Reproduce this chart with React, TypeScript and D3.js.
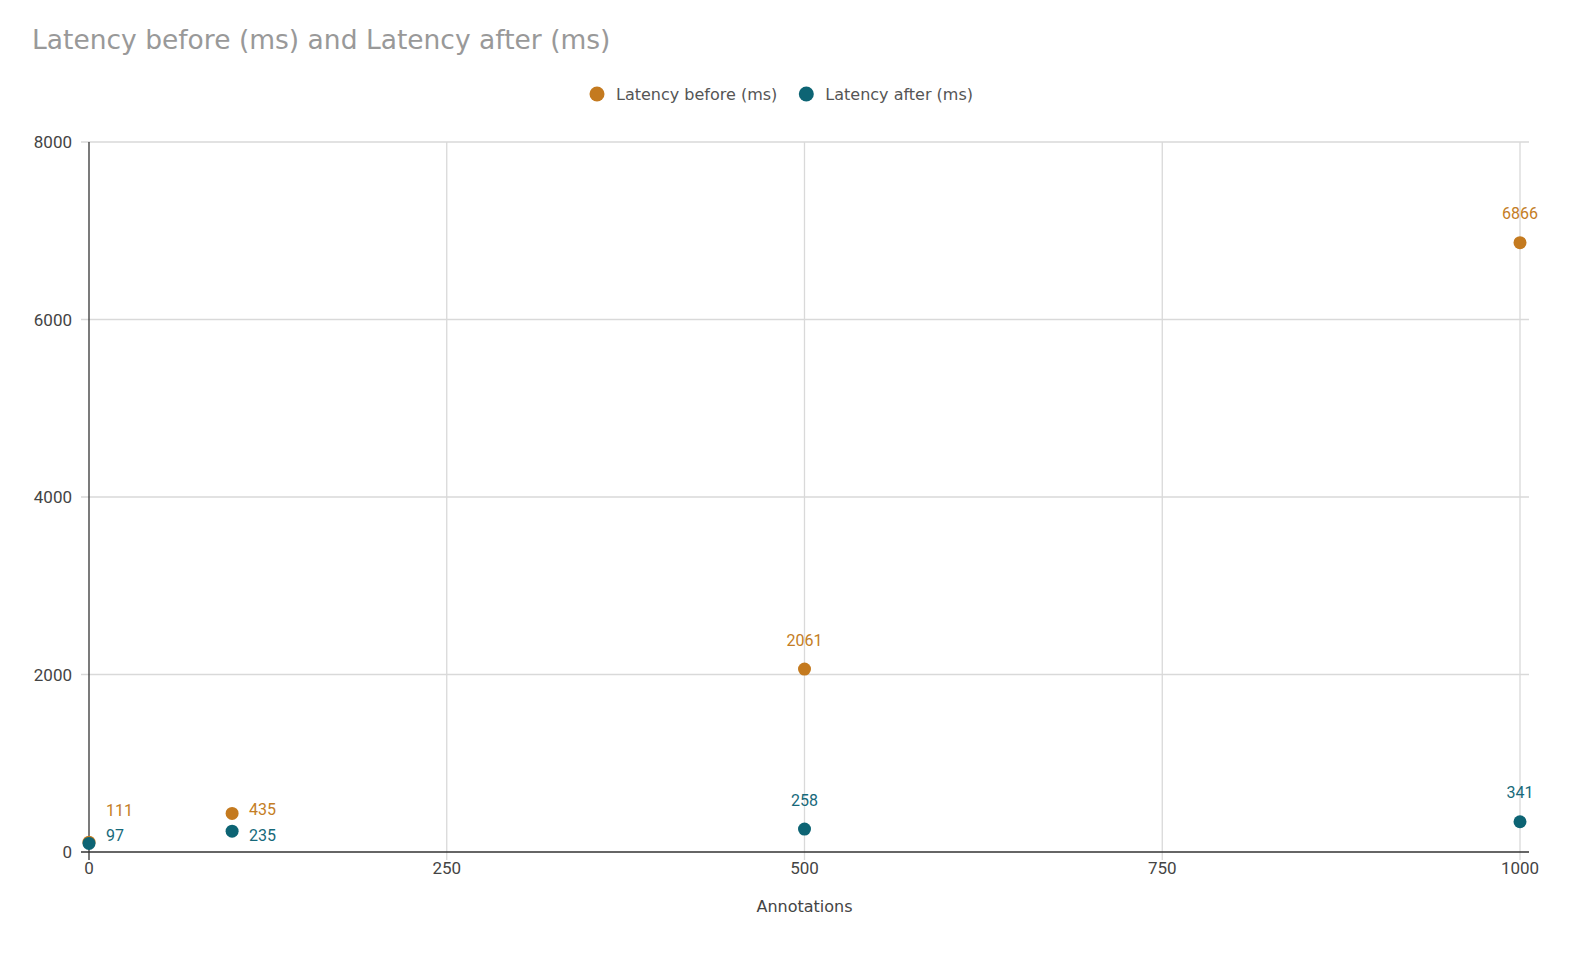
import React, { useEffect, useRef } from "react";
import * as d3 from "d3";

// annotations on the x axis
const annotations = [0, 100, 500, 1000];
const latencyBefore = [111, 435, 2061, 6866];
const latencyAfter = [97, 235, 258, 341];
const xTicks = [0, 250, 500, 750, 1000];
const yTicks = [0, 2000, 4000, 6000, 8000];

const series = [
  { name: "Latency before (ms)", values: latencyBefore, color: "#c47a1f", text: "#c47d24" },
  { name: "Latency after (ms)", values: latencyAfter, color: "#0d6474", text: "#17697a" },
];

const App = () => {
  const ref = useRef<SVGSVGElement>(null);

  useEffect(() => {
    const width = 1596,
      height = 958;
    const margin = { top: 142, right: 76, bottom: 106, left: 89 };

    const svg = d3.select(ref.current);
    svg.selectAll("*").remove();

    const x = d3
      .scaleLinear()
      .domain([0, 1000])
      .range([margin.left, width - margin.right]);
    const y = d3
      .scaleLinear()
      .domain([0, 8000])
      .range([height - margin.bottom, margin.top]);

    const gridRight = x(1000) + 9;

    // title
    svg
      .append("text")
      .attr("x", 32)
      .attr("y", 49)
      .attr("font-family", "DejaVu Sans")
      .attr("font-size", 26.5)
      .attr("fill", "#999999")
      .text("Latency before (ms) and Latency after (ms)");

    // legend
    const legend = svg.append("g");
    let lx = 597;
    series.forEach((s) => {
      legend.append("circle").attr("cx", lx).attr("cy", 94).attr("r", 7.5).attr("fill", s.color);
      const t = legend
        .append("text")
        .attr("x", lx + 19)
        .attr("y", 99.5)
        .attr("font-family", "DejaVu Sans")
        .attr("font-size", 16)
        .attr("fill", "#555")
        .text(s.name);
      const w = (t.node() as SVGTextElement).getComputedTextLength();
      lx += 19 + w + 29;
    });

    // horizontal grid
    svg
      .append("g")
      .selectAll("line")
      .data(yTicks.filter((d) => d > 0))
      .enter()
      .append("line")
      .attr("x1", x(0) - 8)
      .attr("x2", gridRight)
      .attr("y1", (d) => y(d))
      .attr("y2", (d) => y(d))
      .attr("stroke", "#d9d9d9")
      .attr("stroke-width", 1.3);

    // vertical grid
    svg
      .append("g")
      .selectAll("line")
      .data(xTicks.filter((d) => d > 0))
      .enter()
      .append("line")
      .attr("x1", (d) => x(d))
      .attr("x2", (d) => x(d))
      .attr("y1", y(8000))
      .attr("y2", y(0) + 8)
      .attr("stroke", "#d9d9d9")
      .attr("stroke-width", 1.3);

    // axes lines
    svg
      .append("line")
      .attr("x1", x(0))
      .attr("x2", x(0))
      .attr("y1", y(8000))
      .attr("y2", y(0) + 8)
      .attr("stroke", "#333")
      .attr("stroke-width", 1.3);
    svg
      .append("line")
      .attr("x1", x(0) - 8)
      .attr("x2", gridRight)
      .attr("y1", y(0))
      .attr("y2", y(0))
      .attr("stroke", "#333")
      .attr("stroke-width", 1.3);

    // tick labels
    svg
      .append("g")
      .selectAll("text")
      .data(yTicks)
      .enter()
      .append("text")
      .attr("x", x(0) - 17)
      .attr("y", (d) => y(d))
      .attr("dy", "0.36em")
      .attr("text-anchor", "end")
      .attr("font-family", "Roboto")
      .attr("font-size", 17)
      .attr("fill", "#444")
      .text((d) => d);
    svg
      .append("g")
      .selectAll("text")
      .data(xTicks)
      .enter()
      .append("text")
      .attr("x", (d) => x(d))
      .attr("y", y(0) + 22)
      .attr("text-anchor", "middle")
      .attr("font-family", "Roboto")
      .attr("font-size", 17)
      .attr("fill", "#444")
      .text((d) => d);

    // axis title
    svg
      .append("text")
      .attr("x", x(500))
      .attr("y", y(0) + 60)
      .attr("text-anchor", "middle")
      .attr("font-family", "DejaVu Sans")
      .attr("font-size", 16)
      .attr("fill", "#444")
      .text("Annotations");

    // points
    series.forEach((s) => {
      svg
        .append("g")
        .selectAll("circle")
        .data(s.values)
        .enter()
        .append("circle")
        .attr("cx", (d, i) => x(annotations[i]))
        .attr("cy", (d) => y(d))
        .attr("r", 6.5)
        .attr("fill", s.color);
    });

    // data labels: above the point, or to the right when points crowd the left
    const labels = svg.append("g").attr("font-family", "Roboto").attr("font-size", 16);
    annotations.forEach((a, i) => {
      const px = x(a);
      const yb = y(latencyBefore[i]);
      const ya = y(latencyAfter[i]);
      if (a < 250) {
        let la, lb;
        if (ya - yb > 10) {
          lb = yb - 4;
          la = ya + 4;
        } else {
          la = ya - 8;
          lb = Math.min(yb - 4, la - 25);
        }
        labels
          .append("text")
          .attr("x", px + 17)
          .attr("y", lb)
          .attr("dy", "0.36em")
          .attr("fill", series[0].text)
          .text(latencyBefore[i]);
        labels
          .append("text")
          .attr("x", px + 17)
          .attr("y", la)
          .attr("dy", "0.36em")
          .attr("fill", series[1].text)
          .text(latencyAfter[i]);
      } else {
        labels
          .append("text")
          .attr("x", px)
          .attr("y", yb - 29)
          .attr("dy", "0.36em")
          .attr("text-anchor", "middle")
          .attr("fill", series[0].text)
          .text(latencyBefore[i]);
        labels
          .append("text")
          .attr("x", px)
          .attr("y", ya - 29)
          .attr("dy", "0.36em")
          .attr("text-anchor", "middle")
          .attr("fill", series[1].text)
          .text(latencyAfter[i]);
      }
    });
  }, []);

  return (
    <svg
      ref={ref}
      width={1596}
      height={958}
      style={{ display: "block", position: "absolute", left: 0, top: 0, background: "#fff" }}
    />
  );
};

export default App;
